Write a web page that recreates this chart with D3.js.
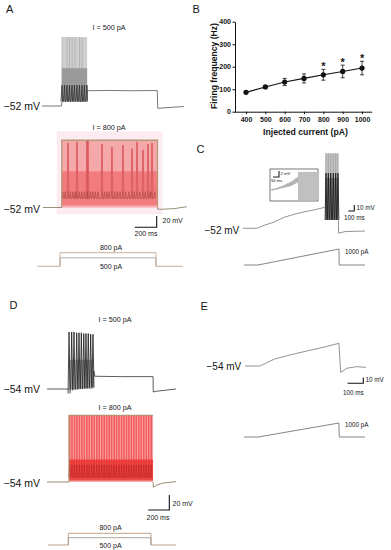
<!DOCTYPE html>
<html><head><meta charset="utf-8">
<script src="https://cdn.jsdelivr.net/npm/d3@7"></script>
<style>
body{margin:0;background:#fff}
svg{display:block}
text{font-family:"Liberation Sans",Arial,sans-serif;fill:#151515}
</style></head>
<body><svg id="c" width="391" height="550"></svg>
<script>
// ================= DATA =================
// Panel B: firing frequency vs injected current
const injCurrent = [400, 500, 600, 700, 800, 900, 1000];
const firingHz   = [86, 110, 132, 148, 164, 179, 194];
const firingSem  = [4, 6, 16, 20, 24, 28, 30];
const significant = [0, 0, 0, 0, 1, 1, 1];
const bYTicks = [0, 100, 200, 300, 400];
const bXTicks = [400, 500, 600, 700, 800, 900, 1000];

// Panel A, I = 500 pA (time ms, mV)
const a500Pre  = [[0,-52],[178,-52],[181,-44]];
const a500Post = [[409,-40],[412,-24],[430,-25],[600,-24.5],[800,-25],[1048,-24.6],[1052,-56],[1100,-55.5],[1200,-54],[1290,-53]];
const a500SpikeT = [182,205,227,250,273,295,318,341,364,386,409];
const a500TallT  = [183,228,250,274,301,341,364];
const a500Peak = 70, a500Knee = -15, a500Trough = -44;
const a500Env  = [180, 410, 70, -44];
const a500Core = [180, 410, 15, -44];

// Panel A, I = 800 pA
const a800Pre  = [[9,-52],[180,-52]];
const a800Post = [[1050,-52],[1052,-55],[1100,-55],[1200,-54],[1318,-50.6]];
const a800Env  = [180, 1050, 67, -52];
const a800Core = [180, 1050, 12, -48];
const a800TallT  = [236,318,409,418,545,636,736,818,864,918,964,1000];
const a800TallPk = [62,64,66,66,60,55,58,52,64,50,60,62];
const a800BurstT = [190,212,236,258,283,305,318,340,362,386,409,418,440,462,486,510,545,568,590,612,636,660,685,710,736,760,790,818,840,864,890,918,940,964,984,1000,1025];
const a800Knee = -24, a800Trough = -36;

// Stimulus A (pA)
const aStim800 = [[-45,0],[164,0],[164,800],[1036,800],[1036,0],[1280,0]];
const aStim500 = [[164,0],[164,500],[1036,500],[1036,0]];

// Panel C (ramp to 1000 pA)
const cPre  = [[0,-52],[233,-52],[367,-46.5],[500,-42.3],[700,-33.2],[867,-28.2],[1033,-24.3],[1200,-21],[1350,-17.3],[1372,-16]];
const cPost = [[1590,-38],[1592,-60],[1700,-57.5],[2033,-56.5]];
const cSpikeT = [1383,1422,1462,1505,1545,1583];
const cPeak = 73, cKnee = 40, cTrough = -38;
const cEnv  = [1372, 1590, 73, -38];
const cCore = [1372, 1590, 32, -38];
const cStim = [[17,0],[250,0],[1600,1000],[1602,0],[2033,0]];
// inset of C (ms, mV relative)
const insetTrace = [[8,1.5],[17,2],[25,1.5],[33,2.2],[42,1.7],[50,2.3],[58,1.8],[67,2.5],[75,2],[83,2.8],[92,2.2],[100,3],[108,2.3],[117,3.3],[125,2.5],[133,3.7],[142,2.7],[150,4],[158,2.8],[167,4.3],[175,3],[183,4.7],[192,3.3],[200,5.2],[208,3.7],[217,5.7],[225,4],[233,6]];
const insetSpikeT = [242,258,275,292,308,325,342,358,375,392];
const insetEnv = [233, 398, 7.7, -1.7];

// Panel D, I = 500 pA
const d500Pre  = [[0,-54],[208,-54]];
const d500Post = [[438,-52],[446,-30],[456,-37],[700,-37.5],[1010,-37.5],[1012,-58],[1040,-57],[1229,-54]];
const d500SpikeT = [210,235,257,283,305,327,350,371,393,416,438];
const d500Peak   = [22,22,22,21,21,21,20,20,20,19,19];
const d500Trough = [-60,-56,-55,-55,-54,-54,-53,-53,-53,-52,-52];
const d500Fill = [210, 440, -15, -54];

// Panel D, I = 800 pA
const d800Pre  = [[0,-54],[210,-54]];
const d800Post = [[1010,-54],[1013,-61],[1040,-58.5],[1100,-55.5],[1229,-53.5]];
const d800Env  = [210, 1010, 35, -54];
const d800Core = [210, 1010, -24, -52];
const d800SpikeT = [215,238,262,285,309,333,356,380,403,427,450,474,497,521,545,568,592,615,639,662,686,710,733,757,780,804,828,851,875,898,922,946,969,993];
const d800Peak = 35, d800Knee = -31, d800Trough = -48;
const dStim800 = [[10,0],[203,0],[203,800],[990,800],[990,0],[1229,0]];
const dStim500 = [[203,0],[203,500],[990,500],[990,0]];

// Panel E (ramp, no spikes)
const eTrace = [[13,-54],[108,-54],[151,-48.2],[202,-41.7],[299,-34.7],[406,-27.7],[511,-21.2],[611,-14.2],[622,-65.1],[661,-58],[724,-55.2],[783,-56.3]];
const eStim  = [[6,0],[96,0],[611,1000],[613,0],[777,0]];

// ================= DRAWING =================
const svg = d3.select('#c');

function mk(x0, pxPerMs, yBase, vBase, pxPerUnit){
  return {
    x: d3.scaleLinear().domain([0,1000]).range([x0, x0 + 1000*pxPerMs]),
    y: d3.scaleLinear().domain([vBase, vBase+100]).range([yBase, yBase - 100*pxPerUnit])
  };
}
const A1 = mk(42, 0.11, 106, -52, 0.565);
const A2 = mk(42, 0.11, 207.5, -52, 0.565);
const AS = mk(42, 0.11, 266.3, 0, 0.017);
const D1 = mk(47, 0.105, 389, -54, 0.75);
const D2 = mk(47, 0.105, 482, -54, 0.75);
const DS = mk(47, 0.105, 545, 0, 0.0146);
const C  = mk(243, 0.06, 228.3, -52, 0.6);
const CS = mk(243, 0.06, 265, 0, 0.016);
const CI = mk(270, 0.12, 195, 0, 3);
const E  = mk(243, 0.157, 366, -54, 0.57);
const ES = mk(243, 0.157, 437, 0, 0.014);

function path(s, pts, color, w){
  svg.append('path').datum(pts)
    .attr('d', d3.line().x(d=>s.x(d[0])).y(d=>s.y(d[1])))
    .attr('fill','none').attr('stroke',color).attr('stroke-width',w)
    .attr('stroke-linejoin','round');
}
function box(s, e, fill, op){
  svg.append('rect').attr('x', s.x(e[0])).attr('y', s.y(e[2]))
    .attr('width', s.x(e[1]) - s.x(e[0])).attr('height', s.y(e[3]) - s.y(e[2]))
    .attr('fill', fill).attr('opacity', op==null?1:op);
}
function vlines(s, times, top, bot, color, w, op){
  svg.append('g').selectAll('line').data(times).join('line')
    .attr('x1', t=>s.x(t)).attr('x2', t=>s.x(t))
    .attr('y1', (t,i)=>s.y(Array.isArray(top)?top[i]:top))
    .attr('y2', (t,i)=>s.y(Array.isArray(bot)?bot[i]:bot))
    .attr('stroke', color).attr('stroke-width', w).attr('opacity', op==null?1:op);
}
function spikes(s, times, peak, trough, hw, color, w, op){
  svg.append('g').selectAll('path').data(times).join('path')
    .attr('d', (t,i)=>{
      const x = s.x(t), p = s.y(Array.isArray(peak)?peak[i]:peak), b = s.y(Array.isArray(trough)?trough[i]:trough);
      return `M${x-hw},${b}L${x},${p}L${x+hw},${b}`;
    })
    .attr('fill','none').attr('stroke',color).attr('stroke-width',w)
    .attr('stroke-linejoin','round').attr('opacity', op==null?1:op);
}
function zig(s, times, knee, trough, hw, color, w, op){
  let d = '';
  times.forEach((t,i)=>{
    const x = s.x(t);
    d += (i?'L':'M') + (x-hw) + ',' + s.y(trough) + 'L' + x + ',' + s.y(knee) + 'L' + (x+hw*0.5) + ',' + s.y(trough);
  });
  svg.append('path').attr('d', d).attr('fill','none').attr('stroke',color)
    .attr('stroke-width',w).attr('opacity', op==null?1:op).attr('stroke-linejoin','round');
}
function txt(x, y, s, size, opts){
  opts = opts || {};
  const t = svg.append('text').attr('x',x).attr('y',y).text(s)
    .attr('font-size', size).attr('text-anchor', opts.anchor || 'start');
  if (opts.bold) t.attr('font-weight','bold');
  return t;
}
function scalebar(s, cx, cy, ms, mv, color){
  svg.append('path')
    .attr('d', `M${cx - (s.x(ms) - s.x(0))},${cy}H${cx}V${cy - (s.y(0) - s.y(mv))}`)
    .attr('fill','none').attr('stroke', color||'#111').attr('stroke-width',1.1);
}

// ---------- Panel labels ----------
txt(6, 12.5, 'A', 11);
txt(192.5, 12.5, 'B', 11);
txt(196.5, 153, 'C', 11);
txt(9.5, 309, 'D', 11);
txt(200.5, 310, 'E', 11);

// ---------- Panel A, 500 pA ----------
txt(109, 29.5, 'I = 500 pA', 7.2, {anchor:'middle'});
box(A1, a500Env, '#cfcfcf');
vlines(A1, a500TallT, a500Peak, a500Trough, '#a3a3a3', 0.6);
box(A1, a500Core, '#9a9a9a');
zig(A1, a500SpikeT, a500Knee, a500Trough, 1.1, '#2a2a2a', 0.75);
path(A1, a500Pre, '#555', 0.8);
path(A1, a500Post, '#555', 0.8);
txt(3.5, 110, '\u221252 mV', 10.5);

// ---------- Panel A, 800 pA ----------
svg.append('rect').attr('x', A2.x(a800Env[0]) - 5).attr('y', A2.y(a800Env[2]) - 9)
  .attr('width', A2.x(a800Env[1]) - A2.x(a800Env[0]) + 10)
  .attr('height', A2.y(a800Env[3]) - A2.y(a800Env[2]) + 16).attr('fill', '#fdebf2');
txt(109, 130, 'I = 800 pA', 7.2, {anchor:'middle'});
box(A2, a800Env, '#f5a8a9');
box(A2, a800Core, '#f17b7e');
spikes(A2, a800TallT, a800TallPk, a800Knee, 1.0, '#e6676b', 0.9);
spikes(A2, a800TallT, a800TallPk, a800Knee, 0.4, '#d05458', 0.5);
zig(A2, a800BurstT, a800Knee, a800Trough, 1.2, '#a8413f', 0.85, 0.75);
svg.append('path')
  .attr('d', `M${A2.x(a800Env[0])},${A2.y(a800Env[3])}V${A2.y(a800Env[2])}H${A2.x(a800Env[1])}V${A2.y(a800Env[3])}`)
  .attr('fill','none').attr('stroke','#b49a78').attr('stroke-width',1.3);
path(A2, a800Pre, '#7d7455', 0.8);
path(A2, a800Post, '#7d7455', 0.8);
txt(3.5, 212.7, '\u221252 mV', 10.5);
scalebar(A2, 156.7, 227.3, 200, 20);
txt(162.5, 223, '20 mV', 7);
txt(134.5, 235.5, '200 ms', 7);

// stim A
txt(111, 249.5, '800 pA', 7, {anchor:'middle'});
path(AS, aStim800, '#c4a68a', 0.9);
path(AS, aStim500, '#a8a8a0', 0.9);
txt(111, 268.7, '500 pA', 7, {anchor:'middle'});

// ---------- Panel B ----------
const bx = d3.scaleLinear().domain([340, 1050]).range([234.4, 371.7]);
const by = d3.scaleLinear().domain([0, 400]).range([111.7, 21.7]);
const gy = svg.append('g').attr('transform','translate(235,0)')
  .call(d3.axisLeft(by).tickValues(bYTicks).tickFormat(d3.format('d')).tickSize(2.5).tickSizeOuter(0).tickPadding(1.5));
const gx = svg.append('g').attr('transform','translate(0,111.7)')
  .call(d3.axisBottom(bx).tickValues(bXTicks).tickFormat(d3.format('d')).tickSize(2.5).tickSizeOuter(0).tickPadding(2.6));
[gy, gx].forEach(g=>{
  g.attr('font-family', null).attr('font-size', null);
  g.selectAll('path,line').attr('stroke','#111').attr('stroke-width',1);
  g.selectAll('text').attr('font-size',7).attr('font-weight','bold').style('fill','#151515');
});
svg.append('text').attr('transform','translate(216.5,66) rotate(-90)')
  .attr('text-anchor','middle').attr('font-size',8.6).attr('font-weight','bold')
  .text('Firing frequency (Hz)');
txt(305.5, 135, 'Injected current (pA)', 8.7, {anchor:'middle', bold:true});
const bData = injCurrent.map((c,i)=>({c, m:firingHz[i], s:firingSem[i], sig:significant[i]}));
const eb = svg.append('g');
eb.selectAll('line.v').data(bData).join('line').attr('class','v')
  .attr('x1',d=>bx(d.c)).attr('x2',d=>bx(d.c)).attr('y1',d=>by(d.m-d.s)).attr('y2',d=>by(d.m+d.s))
  .attr('stroke','#111').attr('stroke-width',0.8);
['t','b'].forEach(k=>{
  eb.selectAll('line.'+k).data(bData).join('line').attr('class',k)
    .attr('x1',d=>bx(d.c)-2).attr('x2',d=>bx(d.c)+2)
    .attr('y1',d=>by(k==='t'?d.m+d.s:d.m-d.s)).attr('y2',d=>by(k==='t'?d.m+d.s:d.m-d.s))
    .attr('stroke','#111').attr('stroke-width',0.8);
});
svg.append('path').datum(bData)
  .attr('d', d3.line().x(d=>bx(d.c)).y(d=>by(d.m)))
  .attr('fill','none').attr('stroke','#111').attr('stroke-width',1.1);
svg.append('g').selectAll('circle').data(bData).join('circle')
  .attr('cx',d=>bx(d.c)).attr('cy',d=>by(d.m)).attr('r',2.6).attr('fill','#111');
svg.append('g').selectAll('text').data(bData.filter(d=>d.sig)).join('text')
  .attr('x',d=>bx(d.c)).attr('y',d=>by(d.m+d.s)+0.5).attr('text-anchor','middle')
  .attr('font-size',11).attr('font-weight','bold').text('*');

// ---------- Panel C ----------
box(C, cEnv, '#c2c2c2');
vlines(C, cSpikeT, cPeak, cTrough, '#9c9c9c', 0.7);
box(C, cCore, '#808080');
spikes(C, cSpikeT, cKnee, cTrough, 0.9, '#151515', 0.8);
path(C, cPre, '#777', 0.8);
path(C, cPost, '#777', 0.8);
txt(204.5, 233.5, '\u221252 mV', 10);
scalebar(C, 354.3, 211, 100, 10);
txt(356.5, 209.5, '10 mV', 6.3);
txt(344, 220.3, '100 ms', 6.3);
path(CS, cStim, '#777', 0.9);
txt(345, 254, '1000 pA', 6.3);
// inset
svg.append('rect').attr('x',270).attr('y',169).attr('width',48).attr('height',32)
  .attr('fill','#fff').attr('stroke','#555').attr('stroke-width',0.8);
box(CI, insetEnv, '#b5b5b5');
vlines(CI, insetSpikeT, insetEnv[2], insetEnv[3], '#dcdcdc', 0.6);
path(CI, insetTrace, '#8a8a8a', 0.7);
scalebar(CI, 279, 177, 50, 2, '#222');
txt(280.5, 175, '2 mV', 4.2);
txt(271, 182.3, '50 ms', 4.2);

// ---------- Panel D, 500 pA ----------
txt(115, 322, 'I = 500 pA', 7.2, {anchor:'middle'});
box(D1, d500Fill, '#b0b0b0', 0.85);
spikes(D1, d500SpikeT, d500Peak, d500Trough, 1.0, '#1a1a1a', 0.8);
path(D1, d500Pre, '#333', 0.8);
path(D1, d500Post, '#333', 0.8);
txt(3.5, 393, '\u221254 mV', 10.5);

// ---------- Panel D, 800 pA ----------
txt(115, 410, 'I = 800 pA', 7.2, {anchor:'middle'});
box(D2, d800Env, '#f9a9a9');
vlines(D2, d800SpikeT, d800Peak, d800Trough, '#f35c5c', 1.6);
box(D2, d800Core, '#ea3434', 0.85);
zig(D2, d800SpikeT, d800Knee, d800Trough, 1.0, '#b02222', 0.7, 0.7);
svg.append('path')
  .attr('d', `M${D2.x(d800Env[0])},${D2.y(d800Env[3])}V${D2.y(d800Env[2])}H${D2.x(d800Env[1])}`)
  .attr('fill','none').attr('stroke','#a8916c').attr('stroke-width',1.1);
path(D2, d800Pre, '#7d6e4a', 0.8);
path(D2, d800Post, '#7d6e4a', 0.8);
txt(3.5, 486.5, '\u221254 mV', 10.5);
scalebar(D2, 169.3, 510, 200, 20);
txt(172.5, 505.5, '20 mV', 7);
txt(146.5, 519.5, '200 ms', 7);
txt(110.5, 529.5, '800 pA', 7, {anchor:'middle'});
path(DS, dStim800, '#b9977a', 0.9);
path(DS, dStim500, '#a49a8e', 0.9);
txt(110.5, 547.8, '500 pA', 7, {anchor:'middle'});

// ---------- Panel E ----------
path(E, eTrace, '#777', 0.8);
txt(206.5, 369.5, '\u221254 mV', 10);
scalebar(E, 363.3, 383.3, 100, 10);
txt(365.5, 382, '10 mV', 6.3);
txt(343, 395, '100 ms', 6.3);
path(ES, eStim, '#777', 0.9);
txt(345, 426.5, '1000 pA', 6.3);
</script></body></html>
